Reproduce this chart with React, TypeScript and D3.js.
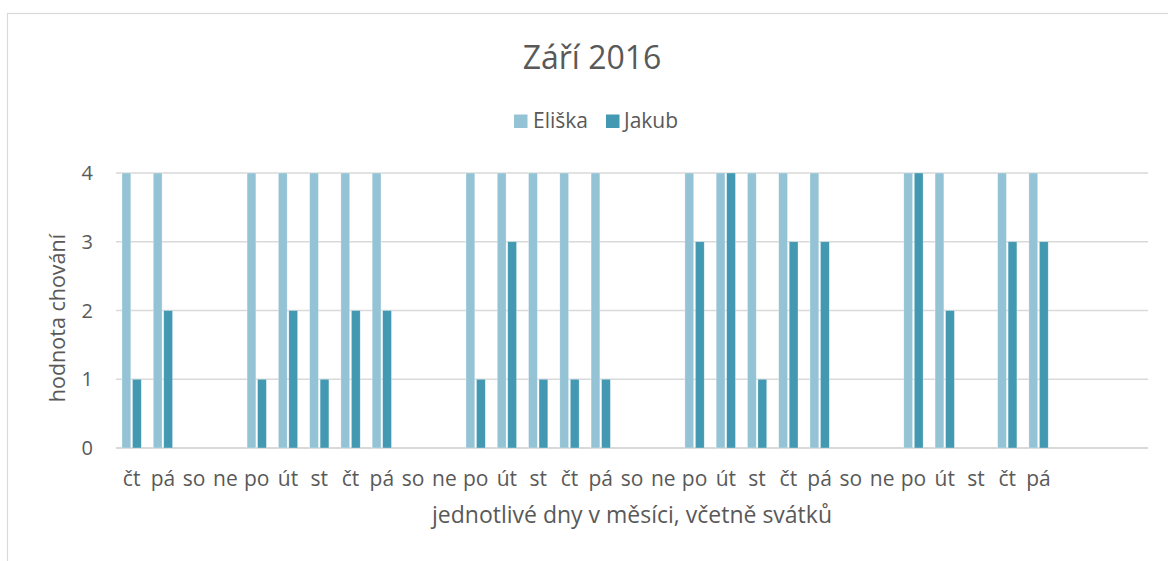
import React from "react";
import * as d3 from "d3";

const title = "Září 2016";
const seriesNames = ["Eliška", "Jakub"];
const dayLabels = [
  "čt", "pá", "so", "ne", "po", "út", "st",
  "čt", "pá", "so", "ne", "po", "út", "st",
  "čt", "pá", "so", "ne", "po", "út", "st",
  "čt", "pá", "so", "ne", "po", "út", "st",
  "čt", "pá", "", "", "",
];
const eliska: (number | null)[] = [
  4, 4, null, null, 4, 4, 4,
  4, 4, null, null, 4, 4, 4,
  4, 4, null, null, 4, 4, 4,
  4, 4, null, null, 4, 4, null,
  4, 4, null, null, null,
];
const jakub: (number | null)[] = [
  1, 2, null, null, 1, 2, 1,
  2, 2, null, null, 1, 3, 1,
  1, 1, null, null, 3, 4, 1,
  3, 3, null, null, 4, 2, null,
  3, 3, null, null, null,
];
const yTicks = [0, 1, 2, 3, 4];
const yTitle = "hodnota chování";
const xTitle = "jednotlivé dny v měsíci, včetně svátků";

const colors = ["#93C3D5", "#4399B1"];
const textColor = "#595959";
const gridColor = "#D9D9D9";
const FONT = "'Open Sans', 'Noto Sans', sans-serif";

export default function App() {
  const W = 1168, H = 561;
  const left = 116, right = 1148, top = 173, bottom = 448;
  const idx = dayLabels.map((_, i) => i);
  const x0 = d3.scaleBand<number>().domain(idx).range([left, right]).paddingInner(0).paddingOuter(0);
  const x1 = d3.scaleBand<string>().domain(seriesNames).range([0, x0.bandwidth()]).paddingInner(0.16).paddingOuter(0.572);
  const y = d3.scaleLinear().domain([0, 4]).range([bottom, top]);
  const series = [eliska, jakub];
  const chartCenter = 592;

  return (
    <div style={{ position: "absolute", left: 0, top: 0 }}>
      <svg width={W} height={H} style={{ display: "block", background: "#fff" }} fontFamily={FONT}>
        <rect x={7.5} y={13.5} width={W + 20} height={H + 20} fill="#fff" stroke="#D9D9D9" strokeWidth={1.2} />
        <text x={chartCenter} y={69} textAnchor="middle" fontSize={32} fill={textColor}>{title}</text>
        {/* legend */}
        <g>
          <rect x={514} y={114.5} width={13.5} height={13.5} fill={colors[0]} />
          <text x={533} y={128} fontSize={21} fill={textColor}>{seriesNames[0]}</text>
          <rect x={606} y={114.5} width={13.5} height={13.5} fill={colors[1]} />
          <text x={624} y={128} fontSize={21} fill={textColor}>{seriesNames[1]}</text>
        </g>
        {/* gridlines */}
        {yTicks.map((t) => (
          <line key={t} x1={left} x2={right} y1={y(t)} y2={y(t)} stroke={gridColor} strokeWidth={t === 0 ? 2 : 1.5} />
        ))}
        {/* y tick labels */}
        {yTicks.map((t) => (
          <text key={"yl" + t} x={93} y={y(t)} dy="0.36em" textAnchor="end" fontSize={20} fill={textColor}>{t}</text>
        ))}
        {/* bars */}
        {series.map((vals, s) =>
          vals.map((v, i) =>
            v == null ? null : (
              <rect
                key={s + "-" + i}
                x={(x0(i) as number) + (x1(seriesNames[s]) as number)}
                y={y(v)}
                width={x1.bandwidth()}
                height={y(0) - y(v)}
                fill={colors[s]}
                stroke="#ffffff"
                strokeOpacity={0.5}
                strokeWidth={0.6}
              />
            )
          )
        )}
        {/* x tick labels */}
        {dayLabels.map((l, i) => (
          <text key={"xl" + i} x={(x0(i) as number) + x0.bandwidth() / 2} y={486} textAnchor="middle" fontSize={21} fill={textColor}>{l}</text>
        ))}
        <text x={(left + right) / 2} y={523} textAnchor="middle" fontSize={23} fill={textColor}>{xTitle}</text>
        <text transform={`translate(65, 318) rotate(-90)`} textAnchor="middle" fontSize={21.5} fill={textColor}>{yTitle}</text>
      </svg>
    </div>
  );
}
